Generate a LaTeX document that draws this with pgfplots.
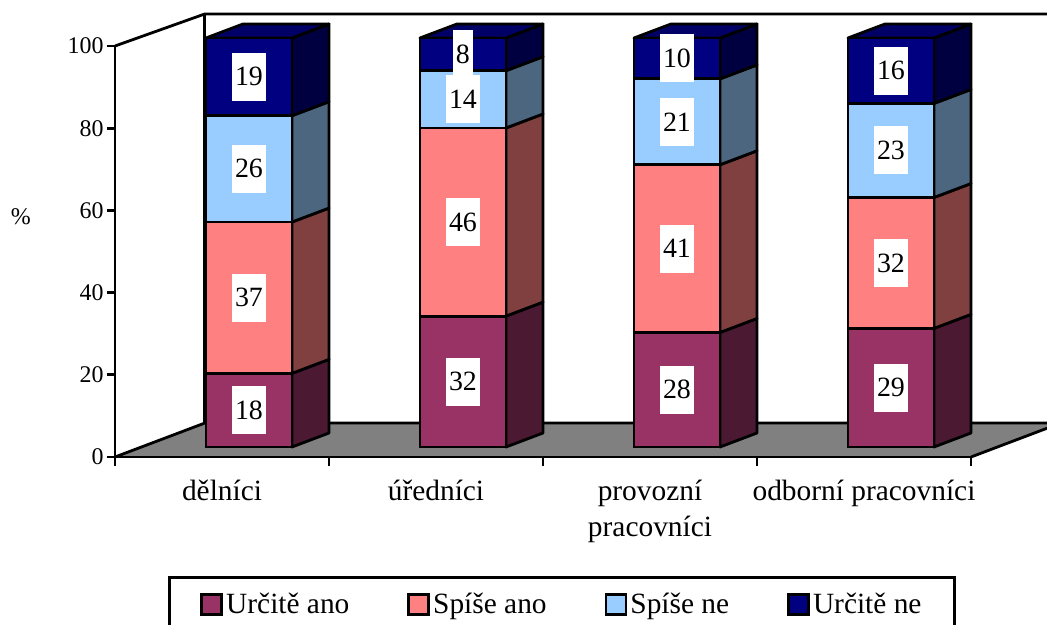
\documentclass[border=0pt]{standalone}
\usepackage{fontspec}
\setmainfont{Liberation Serif}
\usepackage{pgfplots}
\pgfplotsset{compat=1.18}

\definecolor{plum}{HTML}{993366}
\definecolor{salmon}{HTML}{FF8080}
\definecolor{skyb}{HTML}{99CCFF}
\definecolor{navyb}{HTML}{000080}
\definecolor{plumd}{HTML}{4C1933}
\definecolor{salmond}{HTML}{804040}
\definecolor{skybd}{HTML}{4D6680}
\definecolor{navybd}{HTML}{000040}
\definecolor{navybt}{HTML}{000066}

\newcommand{\bigfont}{\fontsize{29.5}{36}\selectfont}
\newcommand{\side}[7]{\addplot[draw=black,fill=#1,line width=2.8bp,line join=round] coordinates {(#2,#4) (#3,#5) (#3,#7) (#2,#6)} -- cycle;}

\begin{document}
\begin{tikzpicture}
\path[use as bounding box] (-115bp,-168bp) rectangle (932bp,457bp);
\clip (-115bp,-168bp) rectangle (932bp,457bp);

% frame, floor and walls
\begin{axis}[
    at={(0,0)}, anchor=south west,
    scale only axis, width=856bp, height=411bp,
    xmin=0, xmax=4, ymin=0, ymax=100,
    clip=false,
    axis x line=bottom, axis y line=left,
    axis line style={-, line width=2.8bp},
    tick style={black, line width=2.8bp},
    tick align=outside,
    major tick length=8bp, minor tick length=9bp,
    ytick={0,20,40,60,80,100},
    xtick={0.5,1.5,2.5,3.5},
    minor xtick={0,1,2,3,4},
    major x tick style={draw=none},
    xticklabels={dělníci,úředníci,{provozní\\pracovníci},odborní pracovníci},
    xticklabel style={font=\bigfont, align=center, yshift=-12bp},
    yticklabel style={font=\fontsize{24}{24}\selectfont},
    /pgf/number format/assume math mode=true,
    ylabel={\%},
    ylabel style={font=\fontsize{24}{24}\selectfont, rotate=-90, at={(rel axis cs:-0.11,0.584)}, anchor=center},
]
\addplot[draw=none, fill=gray, fill opacity=1] coordinates {(0,0) (0.42,8.27) (4.42,8.27) (4,0)} -- cycle;
\addplot[black, line width=2.8bp] coordinates {(0,0) (0.42,8.27) (4.42,8.27)};
\addplot[black, line width=2.8bp] coordinates {(4,0) (4.42,8.27)};
\addplot[black, line width=2.8bp] coordinates {(0,100) (0.42,107.8) (4.42,107.8)};
\addplot[black, line width=2.8bp] coordinates {(0.42,8.27) (0.42,107.8)};
\addplot[black, line width=2.8bp] coordinates {(0,0) (4,0)};
\end{axis}

% side and top faces of the bars
\begin{axis}[
    at={(0,10bp)}, anchor=south west,
    scale only axis, width=856bp, height=409bp,
    xmin=0, xmax=4, ymin=0, ymax=100,
    clip=false, hide axis,
]
\side{plumd}{0.827}{1.0}{0}{3.42}{18}{21.42}
\side{salmond}{0.827}{1.0}{18}{21.42}{55}{58.42}
\side{skybd}{0.827}{1.0}{55}{58.42}{81}{84.42}
\side{navybd}{0.827}{1.0}{81}{84.42}{100}{103.42}
\addplot[draw=black,fill=navybt,line width=2.8bp,line join=round] coordinates {(0.425,100) (0.827,100) (1.0,103.42) (0.598,103.42)} -- cycle;

\side{plumd}{1.827}{2.0}{0}{3.42}{32}{35.42}
\side{salmond}{1.827}{2.0}{32}{35.42}{78}{81.42}
\side{skybd}{1.827}{2.0}{78}{81.42}{92}{95.42}
\side{navybd}{1.827}{2.0}{92}{95.42}{100}{103.42}
\addplot[draw=black,fill=navybt,line width=2.8bp,line join=round] coordinates {(1.425,100) (1.827,100) (2.0,103.42) (1.598,103.42)} -- cycle;

\side{plumd}{2.827}{3.0}{0}{3.42}{28}{31.42}
\side{salmond}{2.827}{3.0}{28}{31.42}{69}{72.42}
\side{skybd}{2.827}{3.0}{69}{72.42}{90}{93.42}
\side{navybd}{2.827}{3.0}{90}{93.42}{100}{103.42}
\addplot[draw=black,fill=navybt,line width=2.8bp,line join=round] coordinates {(2.425,100) (2.827,100) (3.0,103.42) (2.598,103.42)} -- cycle;

\side{plumd}{3.827}{4.0}{0}{3.42}{29}{32.42}
\side{salmond}{3.827}{4.0}{29}{32.42}{61}{64.42}
\side{skybd}{3.827}{4.0}{61}{64.42}{84}{87.42}
\side{navybd}{3.827}{4.0}{84}{87.42}{100}{103.42}
\addplot[draw=black,fill=navybt,line width=2.8bp,line join=round] coordinates {(3.425,100) (3.827,100) (4.0,103.42) (3.598,103.42)} -- cycle;
\end{axis}

% front faces, value labels and legend
\begin{axis}[
    at={(0,10bp)}, anchor=south west,
    scale only axis, width=856bp, height=409bp,
    xmin=0, xmax=4, ymin=0, ymax=100,
    clip=false, hide axis,
    ybar stacked, bar width=0.402,
    nodes near coords,
    every node near coord/.style={
        anchor=center, fill=white, text=black, inner xsep=3.2bp, inner ysep=0pt,
        minimum height=48bp,
        font=\fontsize{28}{28}\selectfont},
    /pgf/number format/assume math mode=true,
    legend columns=4,
    legend cell align=left,
    legend image code/.code={\draw[#1,line width=2.8bp] (0bp,-10bp) rectangle (20bp,10bp); \path (21bp,0bp);},
    legend style={
        at={(53bp,-129bp)}, anchor=north west,
        draw=black, line width=2.8bp,
        font=\bigfont,
        inner xsep=31bp, inner ysep=14bp,
        /tikz/every even column/.append style={column sep=56bp},
    },
]
\addplot[draw=black,fill=plum,line width=2.8bp] coordinates {(0.626,18) (1.626,32) (2.626,28) (3.626,29)};
\addplot[draw=black,fill=salmon,line width=2.8bp] coordinates {(0.626,37) (1.626,46) (2.626,41) (3.626,32)};
\addplot[draw=black,fill=skyb,line width=2.8bp] coordinates {(0.626,26) (1.626,14) (2.626,21) (3.626,23)};
\addplot[draw=black,fill=navyb,line width=2.8bp] coordinates {(0.626,19) (1.626,8) (2.626,10) (3.626,16)};
\legend{Určitě ano,Spíše ano,Spíše ne,Určitě ne}
\end{axis}
\end{tikzpicture}
\end{document}
